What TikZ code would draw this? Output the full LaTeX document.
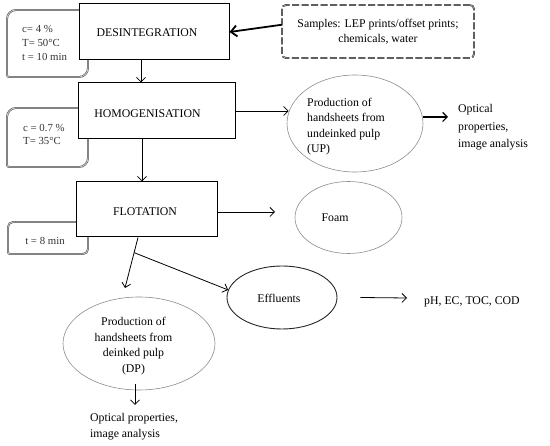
\documentclass[tikz,border=0pt]{standalone}
\usepackage{fontspec}
\setmainfont{Liberation Serif}
\usetikzlibrary{arrows.meta,shapes.geometric,calc}
\begin{document}
\begin{tikzpicture}[x=1pt,y=-1pt,
  mainbox/.style={draw, line width=1pt, fill=white, inner sep=0pt},
  parbox/.style={draw=black!65, line width=0.6pt, double=black!18, double distance=0.7pt},
  smpbox/.style={draw=black!80, line width=0.6pt, double=black!30, double distance=0.6pt,
                 dash pattern=on 7pt off 2.5pt, rounded corners=4pt, align=center,
                 font=\fontsize{11.8}{15}\selectfont},
  ell/.style={ellipse, draw=black!45, line width=0.6pt, inner sep=0pt},
  ellk/.style={ellipse, draw=black!85, line width=0.9pt, inner sep=0pt},
  txt/.style={inner sep=3pt, font=\fontsize{11.8}{15}\selectfont},
  ptxt/.style={inner sep=3pt, text=black!80, font=\fontsize{10.8}{14}\selectfont, align=left},
  arr/.style={-{Straight Barb[length=4.5pt,width=9pt]}, line width=0.8pt},
  thickarr/.style={-{Straight Barb[length=6pt,width=11pt]}, line width=1.8pt}]
\useasboundingbox (0,0) rectangle (550,446);

% parameter boxes (behind the main boxes)
\draw[parbox] (7,40) [rounded corners=9pt] -- (7,10) -- (50,10) [sharp corners] -- (88,10) -- (88,40)
  [rounded corners=9pt] -- (88,77) -- (50,77) [rounded corners=2pt] -- (7,77) -- cycle;
\draw[parbox] (7,140) [rounded corners=9pt] -- (7,108) -- (50,108) [sharp corners] -- (88,108) -- (88,140)
  [rounded corners=9pt] -- (88,167) -- (50,167) [rounded corners=2pt] -- (7,167) -- cycle;
\draw[parbox] (8,240) [rounded corners=5pt] -- (8,222) -- (50,222) [sharp corners] -- (88,222) -- (88,240)
  [rounded corners=5pt] -- (88,254) -- (50,254) [rounded corners=2pt] -- (8,254) -- cycle;

% main boxes
\node[mainbox, minimum width=150pt, minimum height=56pt] (des) at (154,32) {};
\node[mainbox, minimum width=157pt, minimum height=56pt] (hom) at (156.5,111) {};
\node[mainbox, minimum width=141pt, minimum height=55pt] (flo) at (146.5,209.5) {};
\node[txt] (destxt) at (147,33) {DESINTEGRATION};
\node[txt] (homtxt) at (147.5,114) {HOMOGENISATION};
\node[txt] (flotxt) at (145,212) {FLOTATION};

% parameter texts
\node[ptxt, anchor=west] (p1) at (19,43) {c= 4 \%\\T= 50°C\\t = 10 min};
\node[ptxt, anchor=west, font=\fontsize{10.8}{13}\selectfont] (p2) at (20,134.5) {c = 0.7 \%\\T= 35°C};
\node[ptxt] (p3) at (45,241) {t = 8 min};

% samples
\node[smpbox, minimum width=192pt, minimum height=53pt] (smp) at (378,31.5)
  {Samples: LEP prints/offset prints;\\chemicals, water};

% ellipses
\node[ell, minimum width=136pt, minimum height=97pt] (up) at (355,123.5) {};
\node[ell, minimum width=107pt, minimum height=72pt] (foam) at (348.5,217.5) {};
\node[ellk, minimum width=110pt, minimum height=63pt] (eff) at (282,297.5) {};
\node[ell, minimum width=152pt, minimum height=93pt] (dp) at (139,343.5) {};

\node[txt, anchor=west, align=left, font=\fontsize{11.8}{15.5}\selectfont] (uptxt) at (304,126.5)
  {Production of\\handsheets from\\undeinked pulp\\(UP)};
\node[txt] (foamtxt) at (335,218) {Foam};
\node[txt] (efftxt) at (279,298) {Effluents};
\node[txt, align=center, font=\fontsize{11.8}{15.7}\selectfont] (dptxt) at (133.5,346)
  {Production of\\handsheets from\\deinked pulp\\(DP)};

% result texts
\node[txt, anchor=west, align=left, font=\fontsize{11.8}{17.5}\selectfont] (optr) at (455,127.5)
  {Optical\\properties,\\image analysis};
\node[txt, anchor=west] (ph) at (421,302) {pH, EC, TOC, COD};
\node[txt, anchor=west, align=left, font=\fontsize{11.8}{16}\selectfont] (optb) at (87,427)
  {Optical properties,\\image analysis};

% free ends
\coordinate (opte) at (448,117);
\coordinate (foamin) at (275,212);
\coordinate (dpin) at (125,288);
\coordinate (phe) at (407,298);
\coordinate (dpo) at (135,405);

% connectors
\draw[thickarr] (smp.176) -- (des.east);
\draw[arr] ([xshift=-13pt]des.south) -- ([xshift=-13pt]des.south |- hom.north);
\draw[arr] ([xshift=-14.5pt]hom.south) -- ([xshift=-14.5pt]hom.south |- flo.north);
\draw[arr] (hom.east) -- ([xshift=2pt]up.west |- hom.east);
\draw[arr, line width=1.2pt] ([yshift=6.5pt]up.east) -- (opte);
\draw[arr] (flo.east |- foamin) -- (foamin);
\draw[arr] ([xshift=-8.5pt]flo.south) -- (dpin) coordinate[pos=0.3] (br);
\draw[arr] (br) -- (eff.172);
\draw[arr] ([xshift=23pt]eff.east) -- (phe);
\draw[arr] ([xshift=-4pt,yshift=6pt]dp.south) -- (dpo);
\end{tikzpicture}
\end{document}
